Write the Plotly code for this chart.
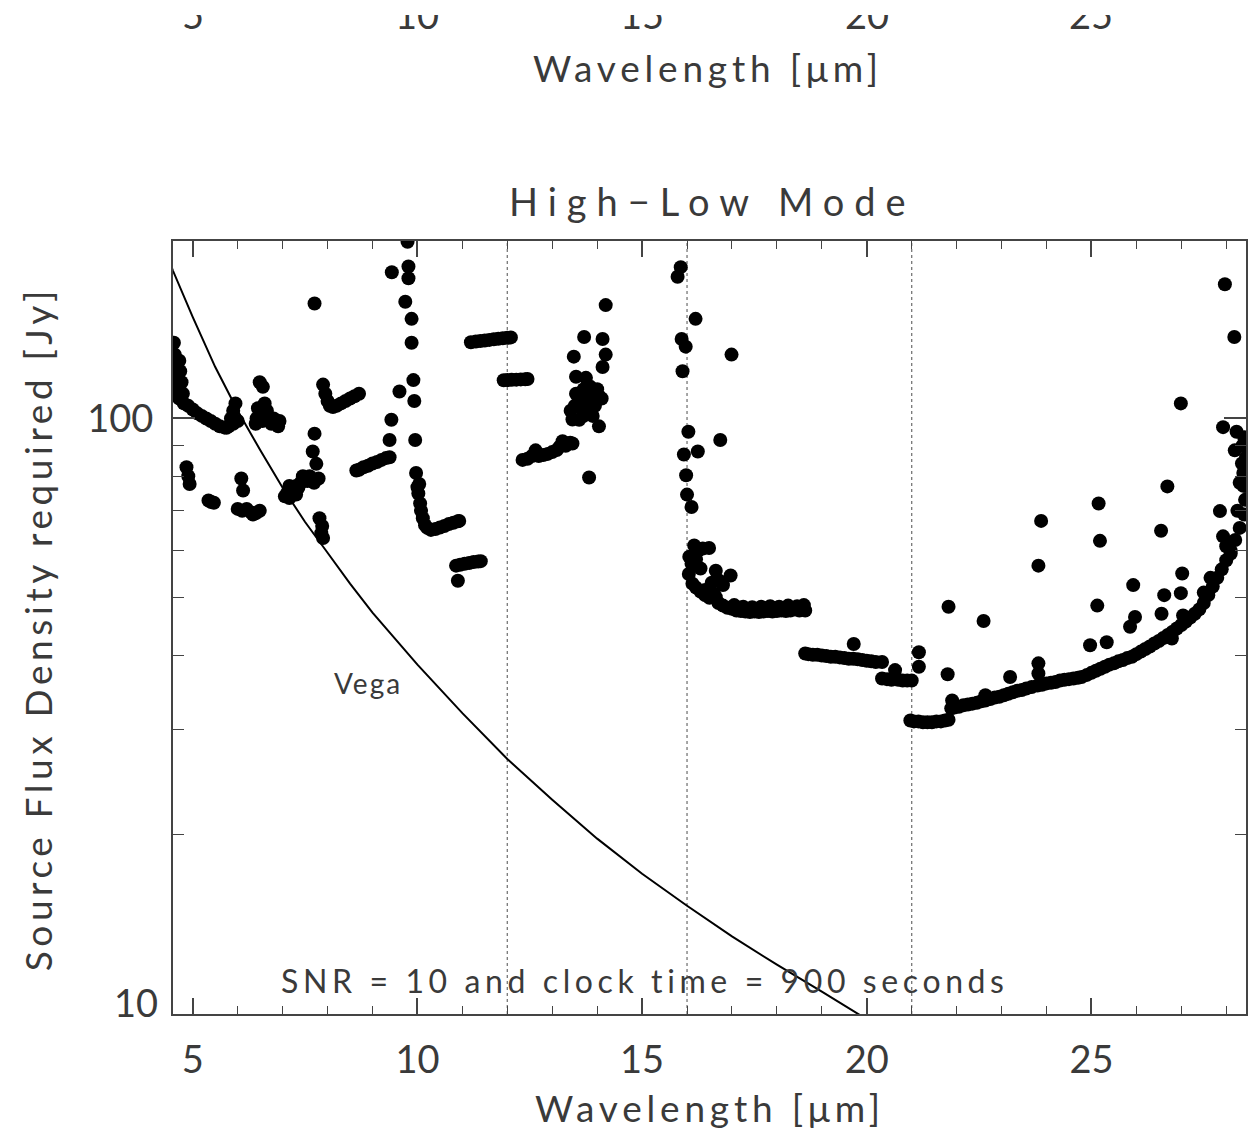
import plotly.graph_objects as go

# ---------------- data ----------------
# 4.5 - 10 um
wl_a = [4.58, 4.60, 4.62, 4.65, 4.60, 4.65, 4.70, 4.72, 4.75, 4.78, 4.80, 4.70,
        4.90, 5.00, 5.10, 5.20, 5.30, 5.40, 5.50, 5.60, 5.70, 5.75, 5.80, 5.85, 5.90, 5.95, 5.90, 6.00,
        6.49, 6.56, 6.40, 6.42, 6.45, 6.50, 6.55, 6.60, 6.65, 6.70, 6.75, 6.80, 6.85, 6.90, 6.93,
        4.86, 4.90, 4.93, 5.35, 5.41, 5.47, 6.08, 6.12, 6.00, 6.10, 6.20, 6.30, 6.34, 6.41, 6.49,
        7.05, 7.10, 7.15, 7.20, 7.25, 7.30, 7.35, 7.40, 7.45, 7.50, 7.55, 7.60, 7.65, 7.70, 7.80, 7.15, 7.30,
        7.71, 7.67, 7.75, 7.71,
        7.82, 7.86, 7.90, 7.88,
        7.90, 7.95, 8.00, 8.05, 8.12, 8.20, 8.30, 8.40, 8.50, 8.60, 8.70,
        8.64, 8.70, 8.80, 8.90, 9.00, 9.10, 9.20, 9.30, 9.38,
        9.42, 9.38, 9.60, 9.43, 9.78, 9.80, 9.80, 9.73, 9.87, 9.87, 9.91, 9.93, 9.95, 9.97, 10.00, 10.02, 10.04]
flux_a = [134, 128, 122, 118, 113, 110, 125, 120, 115, 110, 106, 108,
          105, 103.5, 102, 101, 100, 99, 98, 97, 96.6, 96.5, 97, 100, 103, 106, 98, 99,
          115, 113, 98, 100, 104, 101, 99, 106, 103, 100, 98, 100, 98, 97, 99,
          82.8, 80, 77.6, 72.8, 72.4, 72.2, 79.3, 75.7, 70.5, 70, 70.5, 69.5, 69, 69.4, 70,
          74, 75, 73.5, 75.5, 76, 77, 76.5, 78, 80, 79, 78.5, 80, 79, 78, 79.3, 77, 74.5,
          156, 88, 83.9, 94.3,
          68, 64.2, 63, 66,
          114, 110, 107, 105, 104.5, 105, 106, 107, 108, 109, 110,
          81.8, 82, 82.8, 83.3, 84, 84.5, 85.2, 85.8, 86.1,
          99.5, 92, 111, 176, 198, 180, 172, 157, 147, 134, 116, 107, 92, 81, 76.7, 74.8, 77.6]

# 10 - 16 um
wl_b = [10.06, 10.08, 10.12, 10.17, 10.22, 10.30, 10.40, 10.50, 10.60, 10.70, 10.80, 10.90, 10.93,
        10.86, 10.95, 11.05, 11.15, 11.25, 11.35, 11.41, 10.90,
        11.19, 11.30, 11.40, 11.50, 11.60, 11.70, 11.80, 11.90, 12.00, 12.08,
        11.92, 12.00, 12.10, 12.20, 12.30, 12.40, 12.45,
        12.34, 12.45, 12.55, 12.63, 12.70, 12.80, 12.90, 13.00, 13.10, 13.16, 13.23, 13.30, 13.40, 13.45,
        13.82,
        13.41, 13.45, 13.53, 13.53, 13.48, 13.71, 13.75, 13.82, 13.90, 13.90, 14.04, 14.04, 14.12, 14.19, 14.12, 14.19,
        13.50, 13.60, 13.65, 13.70, 13.75, 13.80, 13.85, 13.95, 14.00, 14.10, 13.60, 13.70,
        15.86, 15.79, 16.19, 15.88, 15.97, 15.90, 16.99, 16.03, 15.93, 16.24, 16.74, 15.98, 16.00, 16.10]
flux_b = [72, 70, 68, 66.2, 65.5, 65, 65.2, 65.6, 66, 66.5, 66.8, 67.2, 67.3,
          56.6, 56.8, 57, 57.2, 57.4, 57.5, 57.6, 53.4,
          134.3, 134.6, 134.9, 135.2, 135.5, 135.8, 136.1, 136.4, 136.6, 136.8,
          115.9, 116, 116.1, 116.2, 116.3, 116.4, 116.5,
          85.2, 85.6, 86.5, 88.4, 86.5, 86.8, 87.2, 87.8, 88.5, 89.6, 91.6, 90, 91, 90.8,
          79.6,
          103, 99.6, 110, 117.5, 127, 137, 117, 110, 106, 101, 97, 109, 122, 128, 136, 155,
          105, 108, 104, 112, 108, 103, 113, 105, 112, 108, 99.5, 101,
          179.5, 173, 147, 136, 132, 120, 128, 95, 87, 88, 92, 80.3, 74.5, 71]

# 16 - 21.2 um
wl_c = [16.04, 16.12, 16.20, 16.30, 16.40, 16.50, 16.64, 16.70, 16.80, 16.90,
        17.00, 17.10, 17.20, 17.30, 17.40, 17.50, 17.60, 17.70, 17.80, 17.90,
        18.00, 18.10, 18.20, 18.30, 18.40, 18.50, 18.63,
        16.16, 16.25, 16.35, 16.49, 16.20, 16.30, 16.64, 16.70, 16.80, 16.97, 16.55, 16.10, 16.05,
        17.05, 17.25, 17.45, 17.65, 17.85, 18.05, 18.25, 18.45, 18.60, 16.40, 16.60,
        18.63, 18.70, 18.80, 18.90, 19.00, 19.10, 19.20, 19.30, 19.40, 19.50, 19.60, 19.71, 19.70,
        19.80, 19.90, 20.00, 20.10, 20.20, 20.34,
        20.34, 20.45, 20.55, 20.63, 20.70, 20.80, 20.90, 21.00,
        21.16, 21.16]
flux_c = [54.8, 52.8, 52, 51.2, 50.5, 50, 50.1, 49, 48.5, 48.1,
          47.9, 47.6, 47.5, 47.4, 47.3, 47.4, 47.3, 47.4, 47.5, 47.4,
          47.5, 47.6, 47.5, 47.6, 47.8, 47.6, 47.6,
          61.2, 60, 60.5, 60.6, 58, 56, 55.5, 53.5, 52.5, 54.5, 53, 57, 58.6,
          48.6, 48.3, 48.2, 48.3, 48.4, 48.3, 48.5, 48.4, 48.6, 51.5, 50.8,
          40.3, 40.2, 40.1, 40.1, 40, 39.9, 39.8, 39.8, 39.7, 39.6, 39.5, 41.8, 39.5,
          39.4, 39.3, 39.2, 39.1, 39, 39,
          36.6, 36.5, 36.4, 37.8, 36.4, 36.3, 36.3, 36.3,
          40.5, 38.3]

# 21 - 28.5 um, main band
wl_d = [20.97, 21.05, 21.15, 21.25, 21.35, 21.45, 21.55, 21.65, 21.74, 21.82,
        21.88, 21.95, 22.05, 22.15, 22.25, 22.35, 22.45, 22.55, 22.64, 22.75, 22.85, 22.95,
        23.05, 23.15, 23.25, 23.35, 23.45, 23.55, 23.67, 23.80, 23.90,
        24.00, 24.10, 24.20, 24.30, 24.40, 24.50, 24.60, 24.70, 24.78, 24.90,
        25.00, 25.10, 25.20, 25.30, 25.40, 25.50, 25.60, 25.70, 25.80, 25.90,
        26.00, 26.10, 26.20, 26.30, 26.40, 26.50, 26.60, 26.70, 26.80, 26.90,
        27.00, 27.10, 27.20, 27.30, 27.40, 27.50, 27.60, 27.70, 27.80, 27.90,
        28.00, 28.10, 28.20, 28.30, 28.40]
flux_d = [31.1, 31.0, 31.0, 30.9, 30.9, 30.9, 31.0, 31.0, 31.1, 31.2,
          32.6, 32.7, 32.8, 33.0, 33.1, 33.2, 33.3, 33.5, 33.6, 33.8, 34.0, 34.1,
          34.3, 34.5, 34.7, 34.9, 35.0, 35.2, 35.4, 35.6, 35.7,
          35.9, 36.0, 36.1, 36.3, 36.4, 36.5, 36.6, 36.7, 36.8, 37.1,
          37.4, 37.7, 38.0, 38.3, 38.6, 38.8, 39.1, 39.3, 39.6, 39.8,
          40.2, 40.6, 41.0, 41.4, 41.9, 42.3, 42.8, 43.3, 43.8, 44.4,
          45.0, 45.6, 46.3, 47.0, 47.8, 49.0, 50.5, 52.2, 54.0, 55.8,
          57.8, 60.0, 62.5, 65.5, 69.0]

# 21 - 28.5 um, scattered points
wl_e = [21.82, 22.60, 21.80, 23.19, 23.82, 23.82, 23.88, 25.13, 25.19, 25.16,
        24.97, 25.34, 25.93, 25.97, 25.86, 26.55, 26.69, 27.02, 26.99, 26.62,
        27.04, 27.86, 28.38, 28.10, 26.79, 26.56, 21.90, 22.64, 23.82, 27.93, 28.00,
        26.99, 27.93, 28.23, 28.19, 28.36, 28.40, 27.97, 28.18, 28.42, 28.45, 28.44,
        28.43, 28.44, 28.42, 28.40, 28.35, 28.30, 28.38, 28.25, 27.50, 27.65]
flux_e = [48.3, 45.7, 37.2, 36.8, 38.8, 56.6, 67.3, 48.5, 62.3, 72,
          41.6, 42.1, 52.5, 46.4, 44.7, 64.8, 76.9, 54.9, 50.9, 50.5,
          46.7, 69.9, 77.1, 59.3, 42.7, 47, 33.6, 34.3, 37.3, 63.4, 61,
          106, 96.7, 95, 88.4, 90, 77.6, 168, 137, 73, 77, 80,
          83, 86, 90, 93, 84, 78, 81, 70, 51, 54]

# Vega spectrum
vega_wl = [4.50, 4.56, 5.0, 5.5, 6.0, 6.5, 7.0, 7.5, 8.0, 8.5, 9.0, 9.5, 10.0,
           11.0, 12.0, 13.0, 14.0, 15.0, 16.0, 17.0, 18.0, 19.0, 20.0]
vega_flux = [182, 177, 148, 122, 103, 88.5, 76.5, 67, 59.5, 52.8, 47.2, 42.6, 38.6,
             32, 26.8, 22.9, 19.7, 17.2, 15.2, 13.5, 12.1, 10.9, 9.8]

mode_boundaries_um = [12, 16, 21]
x_ticks = [5, 10, 15, 20, 25]
x_minor = [6, 7, 8, 9, 11, 12, 13, 14, 16, 17, 18, 19, 21, 22, 23, 24, 26, 27, 28]
y_ticks = [10, 100]
y_tick_labels = ["10", "100"]
y_minor = [20, 30, 40, 50, 60, 70, 80, 90, 200]

for a, b in [(wl_a, flux_a), (wl_b, flux_b), (wl_c, flux_c), (wl_d, flux_d), (wl_e, flux_e)]:
    assert len(a) == len(b), (len(a), len(b))

wl_all = wl_a + wl_b + wl_c + wl_d + wl_e
flux_all = flux_a + flux_b + flux_c + flux_d + flux_e

# ---------------- figure ----------------
W, H = 1251, 1135
L, R, T, B = 173, 3, 241, 121
PW, PH = W - L - R, H - T - B


def xp(px):
    return (px - L) / PW


def yp(py):
    return (T + PH - py) / PH


FONT = "Lato"
TXT = "#3a3a3a"
AX = "#444444"

fig = go.Figure()
fig.add_trace(go.Scatter(x=vega_wl, y=vega_flux, mode="lines",
                         line=dict(color="black", width=2), hoverinfo="skip",
                         showlegend=False))
fig.add_trace(go.Scatter(x=wl_all, y=flux_all, mode="markers",
                         marker=dict(color="black", size=14, line=dict(width=0)),
                         showlegend=False))

for xv in mode_boundaries_um:
    fig.add_shape(type="line", xref="x", yref="paper", x0=xv, x1=xv, y0=0, y1=1,
                  line=dict(color="#777777", width=1.3, dash="dot"), layer="below")


def ann(text, x, y, size, xref="paper", **kw):
    d = dict(text=text, x=x, y=y, xref=xref, yref="paper", showarrow=False,
             font=dict(family=FONT, size=size, color=TXT, weight=400),
             xanchor="center", yanchor="middle")
    d.update(kw)
    fig.add_annotation(**d)


# title and labels
ann('<span style="letter-spacing:10px">High\u2212Low Mode</span>', xp(714), yp(201), 38)
ann('<span style="letter-spacing:4.8px">Wavelength [\u03bcm]</span>', xp(711), yp(1107), 37)
ann('<span style="letter-spacing:4.6px">Source Flux Density required [Jy]</span>',
    xp(37), yp(629), 37, textangle=-90)
ann('<span style="letter-spacing:4.6px">SNR = 10 and clock time = 900 seconds</span>',
    xp(646), yp(980), 32)
ann('<span style="letter-spacing:2px">Vega</span>', xp(368), yp(683), 28)
# lowest y tick label sits slightly above its tick in the reference
ann(y_tick_labels[0], xp(160), yp(1002), 38, xanchor="right")

# cut-off axis of the panel above
for v in x_ticks:
    ann(str(v), v, yp(14), 38, xref="x")
ann('<span style="letter-spacing:4.8px">Wavelength [\u03bcm]</span>', xp(709), yp(67), 37)
# the panel above is cropped at the top edge
fig.add_annotation(text="\u00a0", x=xp(W / 2), xref="paper", y=yp(0), yref="paper",
                   showarrow=False, xanchor="center", yanchor="top",
                   width=W + 20, height=15, bgcolor="white", borderpad=0, borderwidth=0)

fig.update_layout(
    width=W, height=H,
    margin=dict(l=L, r=R, t=T, b=B),
    paper_bgcolor="white", plot_bgcolor="white",
    showlegend=False,
    font=dict(family=FONT, color=TXT, size=36, weight=400),
    xaxis=dict(range=[4.56, 28.44], showgrid=False, zeroline=False,
               showline=True, linecolor=AX, linewidth=2, mirror="allticks",
               ticks="inside", ticklen=16, tickwidth=1.5, tickcolor=AX,
               tickvals=x_ticks, ticktext=[str(v) for v in x_ticks],
               tickfont=dict(family=FONT, size=38, color=TXT, weight=400),
               ticklabelstandoff=11,
               minor=dict(tickvals=x_minor, ticks="inside", ticklen=8,
                          tickwidth=1.2, tickcolor=AX, showgrid=False)),
    yaxis=dict(type="log", range=[1, 2.298], showgrid=False, zeroline=False,
               showline=True, linecolor=AX, linewidth=2, mirror="allticks",
               ticks="inside", ticklen=22, tickwidth=1.5, tickcolor=AX,
               tickvals=y_ticks, ticktext=["", y_tick_labels[1]],
               tickfont=dict(family=FONT, size=38, color=TXT, weight=400),
               ticklabelstandoff=10,
               minor=dict(tickvals=y_minor, ticks="inside", ticklen=11,
                          tickwidth=1.2, tickcolor=AX, showgrid=False)),
)

fig.write_html("out.html")
